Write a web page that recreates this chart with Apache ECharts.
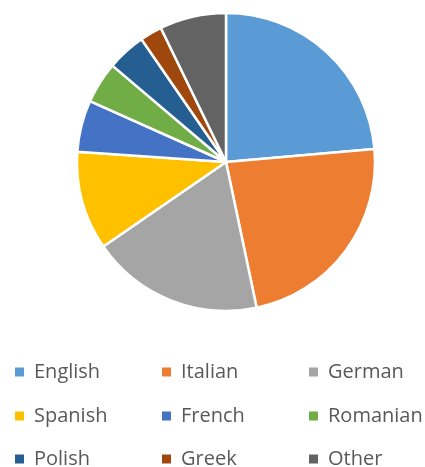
<!DOCTYPE html>
<html>
<head>
<meta charset="utf-8">
<script src="https://cdn.jsdelivr.net/npm/echarts@6/dist/echarts.min.js"></script>
<style>
  html, body { margin: 0; padding: 0; background: #fff; }
  #main { width: 425px; height: 467px; }
</style>
</head>
<body>
<div id="main"></div>
<script>
  // languages and their share (%)
  var languages = ['English', 'Italian', 'German', 'Spanish', 'French', 'Romanian', 'Polish', 'Greek', 'Other'];
  var shares = [23.6, 23.1, 18.7, 10.7, 5.6, 4.5, 4.2, 2.4, 7.2];
  var colors = ['#5B9BD5', '#ED7D31', '#A5A5A5', '#FFC000', '#4472C4', '#70AD47', '#255E91', '#9E480E', '#636363'];

  // legend rows, 3 items each (fixed text width keeps the columns aligned)
  var legendRows = [
    ['English', 'Italian', 'German'],
    ['Spanish', 'French', 'Romanian'],
    ['Polish', 'Greek', 'Other']
  ];
  var legendTop = [361, 405, 448];

  var pieData = languages.map(function (name, i) {
    return { name: name, value: shares[i], itemStyle: { color: colors[i] } };
  });

  var legends = legendRows.map(function (row, i) {
    return {
      orient: 'horizontal',
      left: 13,
      top: legendTop[i],
      padding: 0,
      itemGap: 5,
      itemWidth: 11,
      itemHeight: 11,
      icon: 'rect',
      selectedMode: false,
      data: row.map(function (name, j) {
        // last column gets a narrower box so the row doesn't wrap
        return { name: name, textStyle: { width: j < 2 ? 121 : 90 } };
      }),
      textStyle: {
        fontFamily: 'Open Sans',
        fontSize: 20,
        lineHeight: 22,
        color: '#595959',
        padding: [0, 0, 0, 4]
      }
    };
  });

  var myChart = echarts.init(document.getElementById('main'));
  myChart.setOption({
    animation: false,
    legend: legends,
    series: [{
      type: 'pie',
      center: [226, 162],
      radius: 149,
      startAngle: 90,
      clockwise: true,
      label: { show: false },
      labelLine: { show: false },
      emphasis: { disabled: true },
      itemStyle: { borderColor: '#fff', borderWidth: 2.5 },
      data: pieData
    }]
  });
</script>
</body>
</html>
